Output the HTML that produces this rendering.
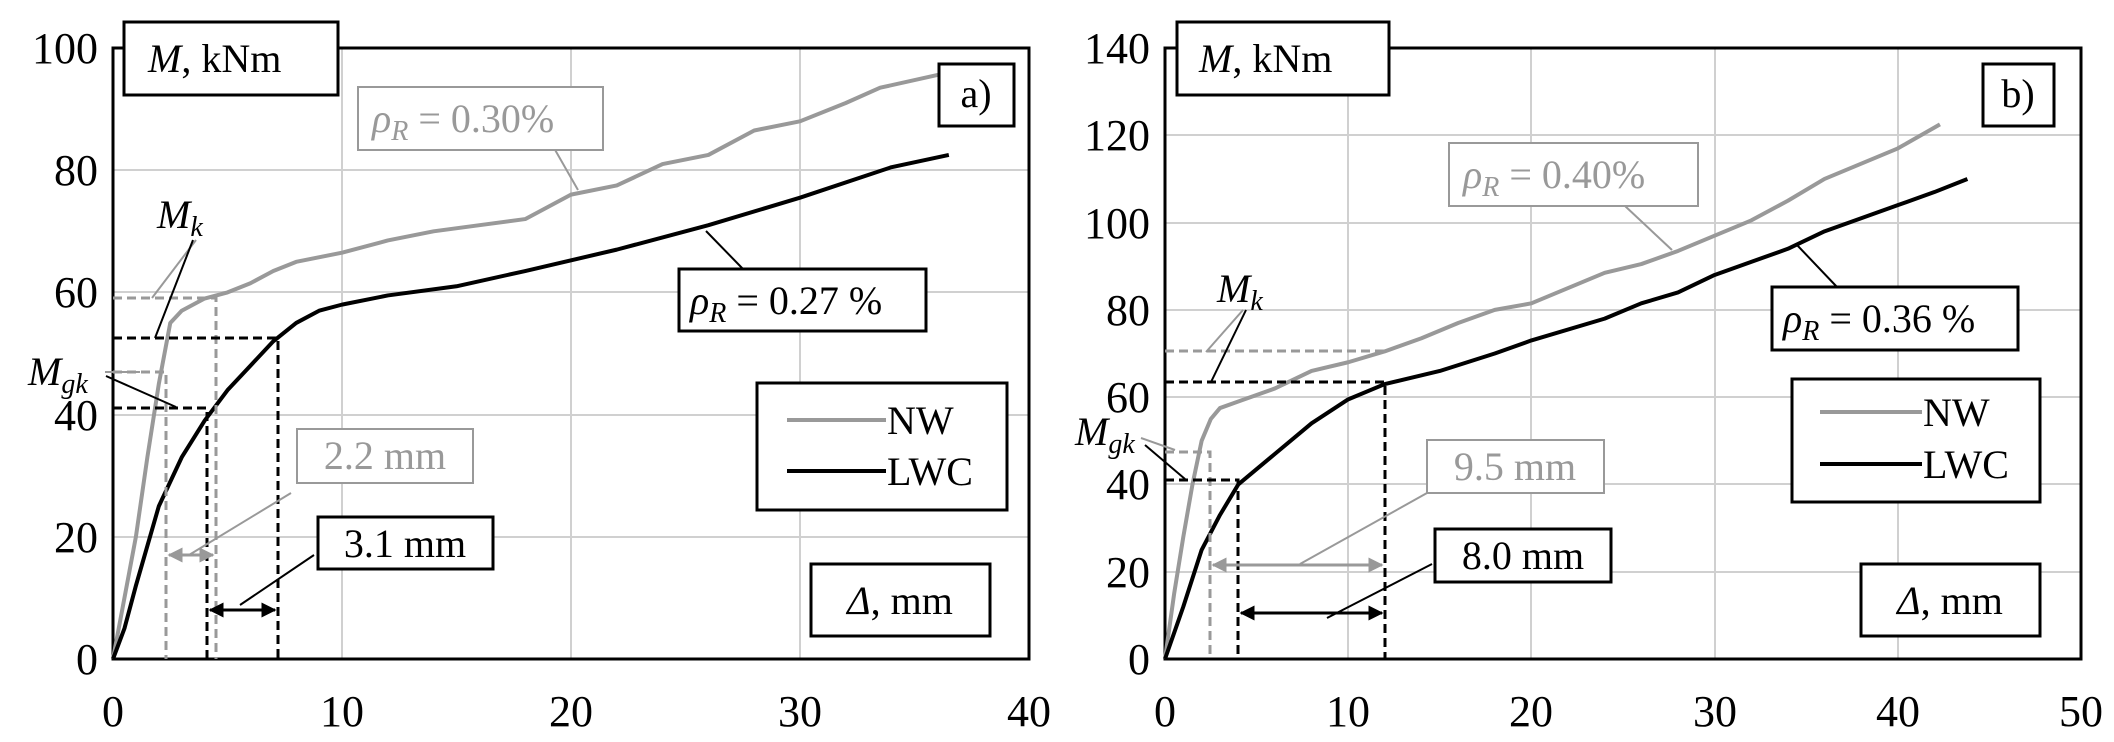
<!DOCTYPE html>
<html><head><meta charset="utf-8"><style>
html,body{margin:0;padding:0;background:#fff;}
svg{display:block;}
text{font-family:"Liberation Serif","DejaVu Serif",serif;}
</style></head><body>
<svg width="2114" height="742" viewBox="0 0 2114 742" xmlns="http://www.w3.org/2000/svg" font-family="Liberation Serif, serif">
<defs>
<marker id="ag" viewBox="0 0 10 10" refX="9" refY="5" markerWidth="5" markerHeight="5" orient="auto-start-reverse"><path d="M0,0L10,5L0,10z" fill="#999"/></marker>
<marker id="ab" viewBox="0 0 10 10" refX="9" refY="5" markerWidth="5" markerHeight="5" orient="auto-start-reverse"><path d="M0,0L10,5L0,10z" fill="#000"/></marker>
</defs>
<rect width="2114" height="742" fill="#fff"/>
<!-- LEFT PLOT -->
<g stroke="#d0d0d0" stroke-width="2">
<line x1="342" y1="48" x2="342" y2="659"/><line x1="571" y1="48" x2="571" y2="659"/><line x1="800" y1="48" x2="800" y2="659"/>
<line x1="113" y1="537" x2="1029" y2="537"/><line x1="113" y1="415" x2="1029" y2="415"/><line x1="113" y1="292" x2="1029" y2="292"/><line x1="113" y1="170" x2="1029" y2="170"/>
</g>
<rect x="113" y="48" width="916" height="611" fill="none" stroke="#000" stroke-width="3"/>
<g font-size="44" text-anchor="end">
<text x="98" y="674">0</text><text x="98" y="552">20</text><text x="98" y="430">40</text><text x="98" y="307">60</text><text x="98" y="185">80</text><text x="98" y="63">100</text>
</g>
<g font-size="44" text-anchor="middle">
<text x="113" y="726">0</text><text x="342" y="726">10</text><text x="571" y="726">20</text><text x="800" y="726">30</text><text x="1029" y="726">40</text>
</g>
<g transform="translate(113,659) scale(22.9,-6.11)" fill="none" stroke-linejoin="round">
<polyline vector-effect="non-scaling-stroke" stroke="#999" stroke-width="4" points="0,0 0.5,10 1,20 1.5,33 2,45 2.5,55 3,57 4,59 5,60 6,61.5 7,63.5 8,65 10,66.5 12,68.5 14,70 16,71 18,72 19,74 20,76 22,77.5 24,81 26,82.5 28,86.5 30,88 32,91 33.5,93.5 36.5,96"/>
<polyline vector-effect="non-scaling-stroke" stroke="#000" stroke-width="4" points="0,0 0.5,5 1,12 2,25 3,33 4,39 5,44 6,48 7,52 8,55 9,57 10,58 12,59.5 15,61 18,63.5 22,67 26,71 30,75.5 34,80.5 36.5,82.5"/>
</g>
<g fill="none" stroke-width="3" stroke-dasharray="9,5">
<polyline stroke="#999" points="113,298 216,298 216,659"/>
<polyline stroke="#999" points="113,372 166,372 166,659"/>
<polyline stroke="#000" points="113,338 278,338 278,659"/>
<polyline stroke="#000" points="113,408 207,408 207,659"/>
</g>
<line x1="169" y1="555" x2="213" y2="555" stroke="#999" stroke-width="3" marker-start="url(#ag)" marker-end="url(#ag)"/>
<line x1="210" y1="610" x2="275" y2="610" stroke="#000" stroke-width="3" marker-start="url(#ab)" marker-end="url(#ab)"/>
<g stroke-width="2">
<line x1="554" y1="148" x2="578" y2="190" stroke="#999"/>
<line x1="743" y1="269" x2="706" y2="231" stroke="#000"/>
<line x1="291" y1="493" x2="189" y2="555" stroke="#999"/>
<line x1="314" y1="555" x2="240" y2="605" stroke="#000"/>
<line x1="196" y1="240" x2="152" y2="298" stroke="#999"/>
<line x1="193" y1="240" x2="155" y2="338" stroke="#000"/>
<line x1="105" y1="372" x2="140" y2="372" stroke="#999"/>
<line x1="106" y1="376" x2="176" y2="407" stroke="#000"/>
</g>
<g font-size="40">
<rect x="124" y="22" width="214" height="73" fill="#fff" stroke="#000" stroke-width="3"/>
<text x="148" y="72"><tspan font-style="italic">M</tspan>, kNm</text>
<rect x="939" y="64" width="75" height="62" fill="#fff" stroke="#000" stroke-width="3"/>
<text x="976" y="107" text-anchor="middle">a)</text>
<rect x="358" y="87" width="245" height="63" fill="#fff" stroke="#999" stroke-width="2"/>
<text x="372" y="132" fill="#999"><tspan font-style="italic">ρ<tspan font-size="28" dy="8">R</tspan></tspan><tspan dy="-8"> = 0.30%</tspan></text>
<rect x="679" y="269" width="247" height="62" fill="#fff" stroke="#000" stroke-width="3"/>
<text x="690" y="314"><tspan font-style="italic">ρ<tspan font-size="28" dy="8">R</tspan></tspan><tspan dy="-8"> = 0.27 %</tspan></text>
<rect x="757" y="383" width="250" height="127" fill="#fff" stroke="#000" stroke-width="3"/>
<line x1="787" y1="420" x2="886" y2="420" stroke="#999" stroke-width="4"/>
<text x="887" y="434">NW</text>
<line x1="787" y1="471" x2="886" y2="471" stroke="#000" stroke-width="4"/>
<text x="887" y="485">LWC</text>
<rect x="811" y="564" width="179" height="72" fill="#fff" stroke="#000" stroke-width="3"/>
<text x="900" y="614" text-anchor="middle"><tspan font-style="italic">Δ</tspan>, mm</text>
<rect x="297" y="429" width="176" height="54" fill="#fff" stroke="#999" stroke-width="2"/>
<text x="385" y="469" text-anchor="middle" fill="#999">2.2 mm</text>
<rect x="318" y="517" width="175" height="52" fill="#fff" stroke="#000" stroke-width="3"/>
<text x="405" y="557" text-anchor="middle">3.1 mm</text>
<text x="157" y="228" font-style="italic">M<tspan font-size="28" dy="8">k</tspan></text>
<text x="28" y="385" font-style="italic">M<tspan font-size="28" dy="8">gk</tspan></text>
</g>

<!-- RIGHT PLOT -->
<g stroke="#d0d0d0" stroke-width="2">
<line x1="1348" y1="48" x2="1348" y2="659"/><line x1="1531" y1="48" x2="1531" y2="659"/><line x1="1715" y1="48" x2="1715" y2="659"/><line x1="1898" y1="48" x2="1898" y2="659"/>
<line x1="1165" y1="572" x2="2081" y2="572"/><line x1="1165" y1="484" x2="2081" y2="484"/><line x1="1165" y1="397" x2="2081" y2="397"/><line x1="1165" y1="310" x2="2081" y2="310"/><line x1="1165" y1="223" x2="2081" y2="223"/><line x1="1165" y1="135" x2="2081" y2="135"/>
</g>
<rect x="1165" y="48" width="916" height="611" fill="none" stroke="#000" stroke-width="3"/>
<g font-size="44" text-anchor="end">
<text x="1150" y="674">0</text><text x="1150" y="587">20</text><text x="1150" y="499">40</text><text x="1150" y="412">60</text><text x="1150" y="325">80</text><text x="1150" y="238">100</text><text x="1150" y="150">120</text><text x="1150" y="63">140</text>
</g>
<g font-size="44" text-anchor="middle">
<text x="1165" y="726">0</text><text x="1348" y="726">10</text><text x="1531" y="726">20</text><text x="1715" y="726">30</text><text x="1898" y="726">40</text><text x="2081" y="726">50</text>
</g>
<g transform="translate(1165,659) scale(18.32,-4.364)" fill="none" stroke-linejoin="round">
<polyline vector-effect="non-scaling-stroke" stroke="#999" stroke-width="4" points="0,0 0.5,15 1,28 1.5,40 2,50 2.5,55 3,57.5 4,59 6,62 8,66 10,68 12,70.5 14,73.5 16,77 18,80 20,81.5 22,85 24,88.5 26,90.5 28,93.5 30,97 32,100.5 34,105 36,110 38,113.5 40,117 42.3,122.5"/>
<polyline vector-effect="non-scaling-stroke" stroke="#000" stroke-width="4" points="0,0 1,12 2,25 3,33 4,40 6,47 8,54 10,59.5 12,63 15,66 18,70 20,73 24,78 26,81.5 28,84 30,88 32,91 34,94 36,98 38,101 40,104 42,107 43.8,110"/>
</g>
<g fill="none" stroke-width="3" stroke-dasharray="9,5">
<polyline stroke="#999" points="1165,351 1385,351"/>
<polyline stroke="#999" points="1165,452 1210,452 1210,659"/>
<polyline stroke="#000" points="1165,382 1385,382 1385,659"/>
<polyline stroke="#000" points="1165,480 1238,480 1238,659"/>
</g>
<line x1="1213" y1="565" x2="1382" y2="565" stroke="#999" stroke-width="3" marker-start="url(#ag)" marker-end="url(#ag)"/>
<line x1="1241" y1="613" x2="1382" y2="613" stroke="#000" stroke-width="3" marker-start="url(#ab)" marker-end="url(#ab)"/>
<g stroke-width="2">
<line x1="1625" y1="206" x2="1672" y2="250" stroke="#999"/>
<line x1="1837" y1="287" x2="1797" y2="245" stroke="#000"/>
<line x1="1427" y1="493" x2="1300" y2="564" stroke="#999"/>
<line x1="1432" y1="564" x2="1327" y2="618" stroke="#000"/>
<line x1="1243" y1="310" x2="1206" y2="352" stroke="#999"/>
<line x1="1246" y1="310" x2="1211" y2="382" stroke="#000"/>
<line x1="1141" y1="438" x2="1175" y2="450" stroke="#999"/>
<line x1="1145" y1="445" x2="1185" y2="479" stroke="#000"/>
</g>
<g font-size="40">
<rect x="1177" y="22" width="212" height="73" fill="#fff" stroke="#000" stroke-width="3"/>
<text x="1199" y="72"><tspan font-style="italic">M</tspan>, kNm</text>
<rect x="1983" y="64" width="71" height="62" fill="#fff" stroke="#000" stroke-width="3"/>
<text x="2018" y="107" text-anchor="middle">b)</text>
<rect x="1449" y="143" width="249" height="63" fill="#fff" stroke="#999" stroke-width="2"/>
<text x="1463" y="188" fill="#999"><tspan font-style="italic">ρ<tspan font-size="28" dy="8">R</tspan></tspan><tspan dy="-8"> = 0.40%</tspan></text>
<rect x="1772" y="287" width="246" height="63" fill="#fff" stroke="#000" stroke-width="3"/>
<text x="1783" y="332"><tspan font-style="italic">ρ<tspan font-size="28" dy="8">R</tspan></tspan><tspan dy="-8"> = 0.36 %</tspan></text>
<rect x="1792" y="379" width="248" height="123" fill="#fff" stroke="#000" stroke-width="3"/>
<line x1="1820" y1="412" x2="1922" y2="412" stroke="#999" stroke-width="4"/>
<text x="1923" y="426">NW</text>
<line x1="1820" y1="464" x2="1922" y2="464" stroke="#000" stroke-width="4"/>
<text x="1923" y="478">LWC</text>
<rect x="1861" y="564" width="179" height="72" fill="#fff" stroke="#000" stroke-width="3"/>
<text x="1950" y="614" text-anchor="middle"><tspan font-style="italic">Δ</tspan>, mm</text>
<rect x="1427" y="440" width="177" height="53" fill="#fff" stroke="#999" stroke-width="2"/>
<text x="1515" y="480" text-anchor="middle" fill="#999">9.5 mm</text>
<rect x="1435" y="529" width="176" height="53" fill="#fff" stroke="#000" stroke-width="3"/>
<text x="1523" y="569" text-anchor="middle">8.0 mm</text>
<text x="1217" y="302" font-style="italic">M<tspan font-size="28" dy="8">k</tspan></text>
<text x="1075" y="445" font-style="italic">M<tspan font-size="28" dy="8">gk</tspan></text>
</g>
</svg>
</body></html>
